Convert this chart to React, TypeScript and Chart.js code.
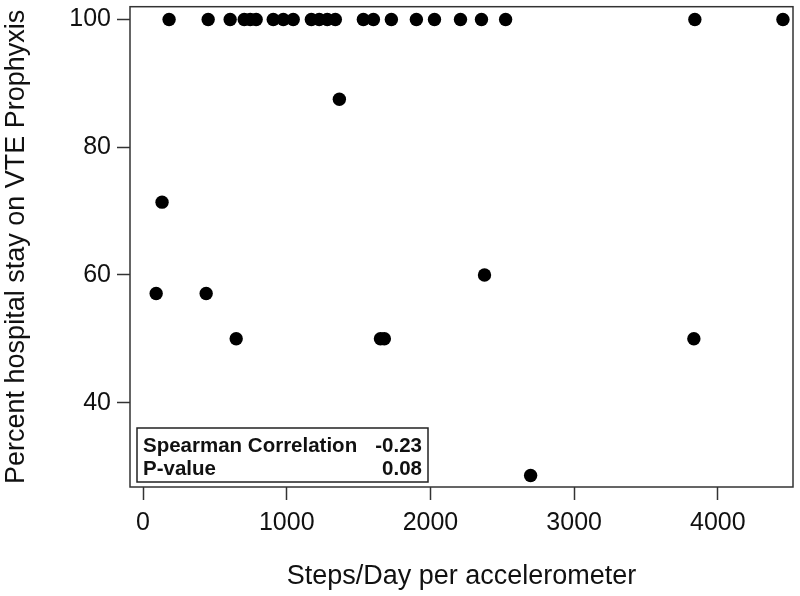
import React, { useEffect, useRef } from "react";
import { Chart, registerables } from "chart.js";

Chart.register(...registerables);

const stepsPerDay = [
  181, 453, 606, 704, 746, 787, 906, 976, 1045, 1171, 1226, 1282, 1338, 1533, 1603, 1728, 1902, 2028, 2209, 2355, 2523, 3840, 4453,
  91, 132, 439, 648, 1366, 1652, 1679, 2376, 2697, 3833,
];
const pctVte = [
  100, 100, 100, 100, 100, 100, 100, 100, 100, 100, 100, 100, 100, 100, 100, 100, 100, 100, 100, 100, 100, 100, 100,
  57.1, 71.4, 57.1, 50, 87.5, 50, 50, 60, 28.6, 50,
];
const xTicks = [0, 1000, 2000, 3000, 4000];
const yTicks = [40, 60, 80, 100];
const statLabels = ["Spearman Correlation", "P-value"];
const statValues = ["-0.23", "0.08"];
const xTitle = "Steps/Day per accelerometer";
const yTitle = "Percent hospital stay on VTE Prophyxis";

const FONT = "'Liberation Sans', Arial, sans-serif";
const INK = "#111";

const framePlugin = {
  id: "frame",
  afterDraw(chart: any) {
    const { ctx, chartArea } = chart;
    const { left, top, right, bottom } = chartArea;
    ctx.save();
    ctx.strokeStyle = "#333";
    ctx.lineWidth = 1.5;
    ctx.strokeRect(left, top, right - left, bottom - top);

    // statistics box
    const bx = left + 7;
    const by = bottom - 59;
    const bw = 291;
    const bh = 54;
    ctx.fillStyle = "#fff";
    ctx.fillRect(bx, by, bw, bh);
    ctx.lineWidth = 1.5;
    ctx.strokeStyle = "#222";
    ctx.strokeRect(bx, by, bw, bh);
    ctx.fillStyle = INK;
    ctx.font = `bold 20.5px ${FONT}`;
    ctx.textBaseline = "alphabetic";
    statLabels.forEach((lab, i) => {
      const y = by + 24 + i * 23;
      ctx.textAlign = "left";
      ctx.fillText(lab, bx + 6, y);
      ctx.textAlign = "right";
      ctx.fillText(statValues[i], bx + bw - 6, y);
    });
    ctx.restore();
  },
};

export default function App() {
  const ref = useRef<HTMLCanvasElement | null>(null);
  useEffect(() => {
    if (!ref.current) return;
    const points = stepsPerDay.map((x, i) => ({ x, y: pctVte[i] }));
    const chart = new Chart(ref.current, {
      type: "scatter",
      data: {
        datasets: [
          {
            data: points,
            backgroundColor: "#000",
            borderColor: "#000",
            borderWidth: 0,
            pointRadius: 6.7,
            pointHoverRadius: 6.7,
          },
        ],
      },
      options: {
        responsive: false,
        animation: false,
        events: [],
        layout: { padding: { left: 0, top: 2, right: 7, bottom: 0 } },
        plugins: {
          legend: { display: false },
          tooltip: { enabled: false },
        },
        scales: {
          x: {
            type: "linear",
            min: -91,
            max: 4523,
            afterBuildTicks: (s: any) => {
              s.ticks = xTicks.map((v) => ({ value: v }));
            },
            afterFit: (s: any) => {
              s.height = 109;
              s.paddingLeft = 0;
              s.paddingRight = 0;
            },
            grid: {
              display: true,
              drawOnChartArea: false,
              drawTicks: true,
              tickLength: 13,
              tickColor: "#333",
              tickWidth: 1.5,
            },
            border: { display: false },
            ticks: {
              color: INK,
              font: { family: FONT, size: 25 },
              padding: 8,
              maxRotation: 0,
              callback: (v: any) => String(v),
            },
            title: {
              display: true,
              text: xTitle,
              color: INK,
              font: { family: FONT, size: 27 },
              padding: { top: 0, bottom: 3 },
            },
          },
          y: {
            type: "linear",
            min: 26.8,
            max: 102,
            afterBuildTicks: (s: any) => {
              s.ticks = yTicks.map((v) => ({ value: v }));
            },
            afterFit: (s: any) => {
              s.width = 130;
              s.paddingTop = 0;
              s.paddingBottom = 0;
            },
            grid: {
              display: true,
              drawOnChartArea: false,
              drawTicks: true,
              tickLength: 13,
              tickColor: "#333",
              tickWidth: 1.5,
            },
            border: { display: false },
            ticks: {
              color: INK,
              font: { family: FONT, size: 25 },
              padding: 6,
              callback: (v: any) => String(v),
            },
            title: {
              display: true,
              text: yTitle,
              color: INK,
              font: { family: FONT, size: 27 },
              padding: { top: 0, bottom: 0 },
            },
          },
        },
      },
      plugins: [framePlugin],
    });
    return () => chart.destroy();
  }, []);
  return (
    <div style={{ position: "absolute", left: 0, top: 0, width: 800, height: 596, background: "#fff" }}>
      <canvas ref={ref} width={800} height={596} style={{ display: "block" }} />
    </div>
  );
}
